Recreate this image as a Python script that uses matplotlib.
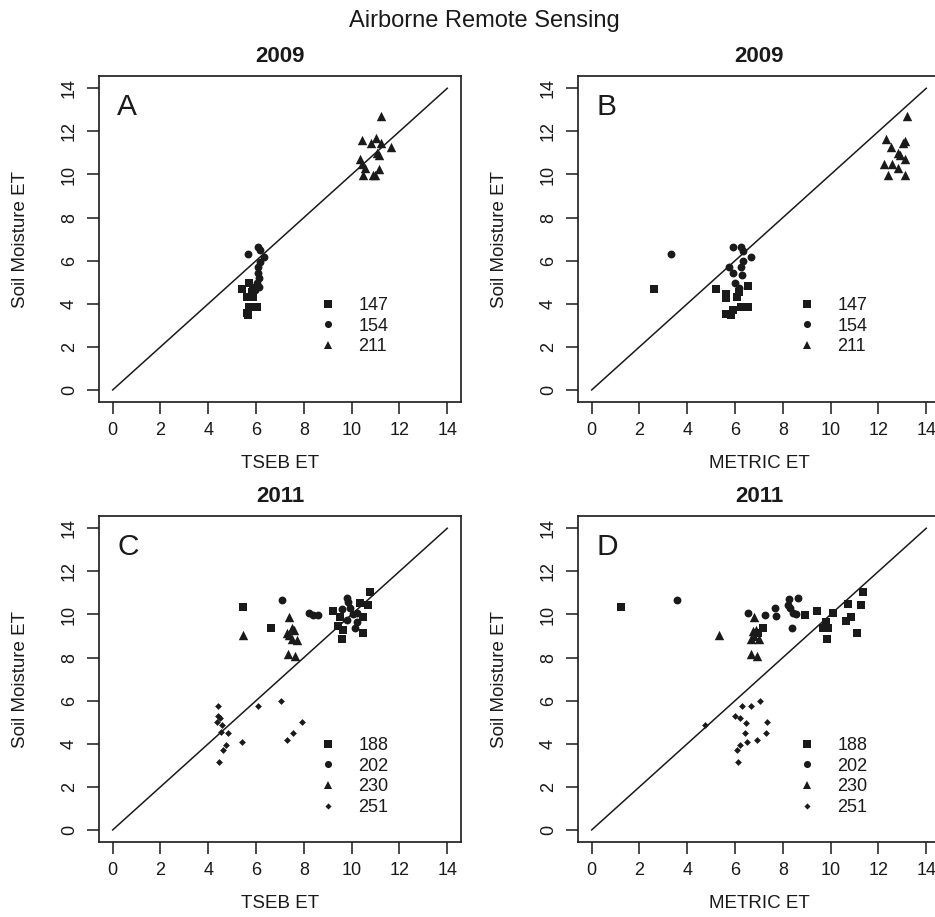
import matplotlib.pyplot as plt
from matplotlib.lines import Line2D

plt.rcParams['font.family'] = ['Liberation Sans', 'DejaVu Sans']
ink = '#1a1a1a'

# ---- data (x = model ET, y = soil moisture ET) ----
# 2009, TSEB
a147_x = [5.72, 5.40, 5.88, 5.81, 5.60, 5.88, 5.72, 6.02, 5.60, 5.67]
a147_y = [4.98, 4.67, 4.72, 4.56, 4.30, 4.30, 3.87, 3.87, 3.56, 3.48]
a154_x = [6.09, 6.16, 5.67, 6.33, 6.16, 6.09, 6.09, 6.13, 6.02, 6.13, 5.95]
a154_y = [6.62, 6.50, 6.31, 6.16, 5.95, 5.69, 5.44, 5.18, 4.95, 4.80, 4.66]
a211_x = [11.23, 10.42, 10.81, 11.02, 11.23, 11.63, 11.07, 11.15, 10.35, 10.42,
          10.56, 11.15, 10.46, 10.88, 10.97]
a211_y = [12.71, 11.60, 11.48, 11.68, 11.48, 11.26, 10.98, 10.90, 10.73, 10.49,
          10.29, 10.24, 9.98, 9.98, 9.98]

# 2009, METRIC
b147_x = [2.61, 5.20, 6.55, 5.62, 5.62, 6.10, 6.18, 6.24, 6.52, 5.90, 5.62, 5.83]
b147_y = [4.67, 4.67, 4.83, 4.47, 4.26, 4.30, 4.56, 3.84, 3.87, 3.72, 3.53, 3.48]
b154_x = [3.31, 5.92, 6.24, 6.34, 6.66, 6.34, 5.73, 6.24, 5.90, 6.31, 6.00, 6.18]
b154_y = [6.31, 6.65, 6.65, 6.47, 6.16, 6.00, 5.72, 5.72, 5.41, 5.33, 4.95, 4.72]
b211_x = [13.19, 12.32, 13.09, 13.02, 12.53, 12.81, 12.88, 13.09, 12.21, 12.57,
          12.81, 12.39, 13.09]
b211_y = [12.71, 11.63, 11.57, 11.48, 11.26, 10.98, 10.90, 10.73, 10.49, 10.49,
          10.29, 9.98, 9.98]

# 2011, TSEB
c188_x = [5.44, 6.61, 9.20, 10.77, 10.35, 10.70, 10.46, 10.46, 9.58, 9.65, 9.44, 9.51]
c188_y = [10.35, 9.39, 10.16, 11.05, 10.52, 10.44, 9.87, 9.14, 8.88, 9.28, 9.47, 9.87]
c202_x = [7.07, 8.23, 8.37, 8.60, 9.82, 9.86, 9.58, 9.93, 10.07, 10.21, 9.79, 10.21, 10.14]
c202_y = [10.66, 10.06, 9.97, 9.97, 10.74, 10.58, 10.27, 10.32, 10.01, 10.09, 9.75, 9.65, 9.38]
c230_x = [5.44, 7.39, 7.49, 7.59, 7.28, 7.39, 7.70, 7.49, 7.35, 7.63]
c230_y = [9.03, 9.90, 9.39, 9.28, 9.16, 9.03, 8.81, 8.84, 8.15, 8.07]
c251_x = [4.39, 6.09, 7.03, 4.42, 4.49, 4.35, 4.56, 7.92, 4.52, 4.84, 7.53, 5.40,
          7.31, 4.74, 4.63, 4.45]
c251_y = [5.77, 5.77, 6.00, 5.27, 5.19, 4.99, 4.88, 5.00, 4.55, 4.48, 4.48, 4.06,
          4.16, 3.96, 3.69, 3.15]

# 2011, METRIC
d188_x = [1.21, 7.15, 6.94, 8.94, 9.42, 10.09, 9.81, 9.88, 9.83, 10.71, 11.27, 11.37,
          10.64, 10.85, 11.09, 9.67]
d188_y = [10.35, 9.36, 9.16, 9.97, 10.16, 10.09, 9.65, 9.39, 8.88, 10.50, 10.44, 11.05,
          9.71, 9.87, 9.14, 9.39]
d202_x = [3.55, 6.52, 7.26, 7.68, 7.71, 8.24, 8.62, 8.30, 8.41, 8.55, 8.38, 8.20]
d202_y = [10.66, 10.09, 9.97, 10.32, 9.94, 10.71, 10.74, 10.32, 10.09, 10.01, 9.38, 10.44]
d230_x = [5.31, 6.80, 6.73, 6.87, 6.66, 7.01, 6.80, 6.66, 6.90]
d230_y = [9.03, 9.90, 9.24, 9.28, 8.84, 8.84, 9.00, 8.15, 8.07]
d251_x = [6.31, 6.66, 7.04, 4.75, 6.00, 6.20, 6.45, 7.33, 6.42, 7.29, 6.48, 6.91,
          6.20, 6.10, 6.14]
d251_y = [5.77, 5.77, 6.00, 4.88, 5.27, 5.19, 4.94, 5.00, 4.48, 4.48, 4.06, 4.16,
          3.96, 3.69, 3.15]

ticks = [0, 2, 4, 6, 8, 10, 12, 14]
marker = {'sq': ('s', 40), 'ci': ('o', 32), 'tr': ('^', 46), 'di': ('D', 12)}

panels = [
    ('A', '2009', 'TSEB ET', [0.1062, 0.5616],
     [('147', 'sq', a147_x, a147_y), ('154', 'ci', a154_x, a154_y), ('211', 'tr', a211_x, a211_y)]),
    ('B', '2009', 'METRIC ET', [0.6185, 0.5616],
     [('147', 'sq', b147_x, b147_y), ('154', 'ci', b154_x, b154_y), ('211', 'tr', b211_x, b211_y)]),
    ('C', '2011', 'TSEB ET', [0.1062, 0.0818],
     [('188', 'sq', c188_x, c188_y), ('202', 'ci', c202_x, c202_y),
      ('230', 'tr', c230_x, c230_y), ('251', 'di', c251_x, c251_y)]),
    ('D', '2011', 'METRIC ET', [0.6185, 0.0818],
     [('188', 'sq', d188_x, d188_y), ('202', 'ci', d202_x, d202_y),
      ('230', 'tr', d230_x, d230_y), ('251', 'di', d251_x, d251_y)]),
]

fig = plt.figure(figsize=(9.35, 9.17), dpi=100)

for letter, year, xlab, (left, bottom), series in panels:
    ax = fig.add_axes([left, bottom, 0.3865, 0.3553])
    ax.plot([0, 14], [0, 14], color=ink, linewidth=1.1)
    handles = []
    for lab, key, xs, ys in series:
        m, s = marker[key]
        ax.scatter(xs, ys, marker=m, s=s, color=ink, linewidths=0)
        handles.append(Line2D([], [], linestyle='none', marker=m, color=ink,
                              markeredgewidth=0, markersize=s ** 0.5 * 0.9, label=lab))
    ax.legend(handles=handles, loc='upper left', bbox_to_anchor=(0.607, 0.322),
              frameon=False, fontsize=13, borderpad=0, borderaxespad=0,
              handlelength=1.0, handletextpad=1.2, labelspacing=0.2, labelcolor=ink)
    ax.set_xlim(-0.56, 14.56)
    ax.set_ylim(-0.56, 14.56)
    ax.set_xticks(ticks)
    ax.set_yticks(ticks)
    ax.tick_params(direction='out', length=8.5, width=1.1, colors=ink, labelsize=13, pad=6)
    ax.tick_params(axis='y', labelrotation=90, pad=7)
    for lbl in ax.get_yticklabels():
        lbl.set_va('center')
    for sp in ax.spines.values():
        sp.set_linewidth(1.2)
        sp.set_color(ink)
    ax.set_title(year, fontsize=16, fontweight='bold', color=ink, pad=10)
    ax.set_xlabel(xlab, fontsize=13.5, color=ink, va='center')
    ax.xaxis.set_label_coords(0.5, -0.188)
    ax.set_ylabel('Soil Moisture ET', fontsize=13.5, color=ink, va='center')
    ax.yaxis.set_label_coords(-0.219, 0.5)
    ax.text(0.05, 0.905, letter, transform=ax.transAxes, fontsize=21.5,
            color=ink, ha='left', va='center')

fig.text(0.5176, 1 - 26.8 / 917, 'Airborne Remote Sensing', fontsize=17,
         color=ink, ha='center', va='baseline')

fig.savefig('out.png', dpi=100)
